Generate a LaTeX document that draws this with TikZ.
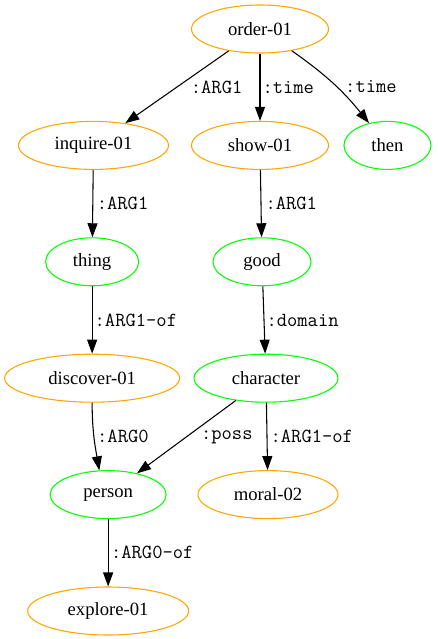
\documentclass[tikz,border=0pt]{standalone}
\usepackage{fontspec}
\setmainfont{Liberation Serif}
\usetikzlibrary{arrows.meta, positioning, shapes.geometric}
\definecolor{amrorange}{HTML}{FFA500}
\definecolor{amrgreen}{HTML}{00FF00}

\begin{document}
\begin{tikzpicture}[x=0.75pt, y=0.75pt, node distance=87.3pt, >={Triangle[length=10.5pt, width=7.5pt]}, line width=0.8pt]
		
		% Define node styles
		\tikzstyle{predicate} = [ellipse, draw=amrorange, minimum height=36pt, inner sep=0pt, font=\fontsize{14}{16}\selectfont]
		\tikzstyle{entity} = [ellipse, draw=amrgreen, minimum height=36pt, inner sep=0pt, font=\fontsize{14}{16}\selectfont]
		\tikzstyle{role} = [anchor=west, inner sep=1pt, font=\ttfamily\fontsize{15}{17}\selectfont]
		
		\useasboundingbox (0,0) rectangle (437,-639);
		
		% Nodes
		\node[predicate, minimum width=102.75pt] (order) at (260,-29) {order-01};
		\node[predicate, minimum width=102.75pt, below of=order] (show) {show-01};
		\node[predicate, minimum width=112.5pt, left of=show, node distance=124.9pt] (inquire) {inquire-01};
		\node[entity, minimum width=65.25pt, right of=show, node distance=95.6pt] (then) {then};
		\node[entity, minimum width=69.75pt, below of=inquire, xshift=-1pt] (thing) {thing};
		\node[entity, minimum width=73.5pt, below of=show, xshift=1.5pt] (good) {good};
		\node[predicate, minimum width=131.25pt, below of=thing] (discover) {discover-01};
		\node[entity, minimum width=108pt, below of=good, xshift=3pt] (character) {character};
		\node[entity, minimum width=87pt, below of=discover, xshift=12pt] (person) {person};
		\node[predicate, minimum width=105pt, below of=character, xshift=1.5pt] (moral) {moral-02};
		\node[predicate, minimum width=120.75pt, below of=person] (explore) {explore-01};
		
		% Arrows
		\draw[->] (order) -- node[role, xshift=9pt] {:ARG1} (inquire);
		\draw[->] (order) -- node[role, xshift=0.5pt] {:time} (show);
		\draw[->] (order) to[bend left=8] node[role, xshift=7.5pt, yshift=-2pt] {:time} (then);
		\draw[->] (inquire) -- node[role, xshift=1.6pt] {:ARG1} (thing);
		\draw[->] (show) -- node[role, xshift=2pt] {:ARG1} (good);
		\draw[->] (thing) -- node[role, xshift=0.5pt] {:ARG1-of} (discover);
		\draw[->] (good) -- node[role, xshift=0.5pt] {:domain} (character);
		\draw[->] (discover) to[out=-90, in=100] node[role, xshift=1pt] {:ARG0} (person.110);
		\draw[->] (character) -- node[role, xshift=9.6pt] {:poss} (person);
		\draw[->] (character) -- node[role, xshift=1.3pt] {:ARG1-of} (moral);
		\draw[->] (person) -- node[role, xshift=0.8pt] {:ARG0-of} (explore);
		
	\end{tikzpicture}
\end{document}
